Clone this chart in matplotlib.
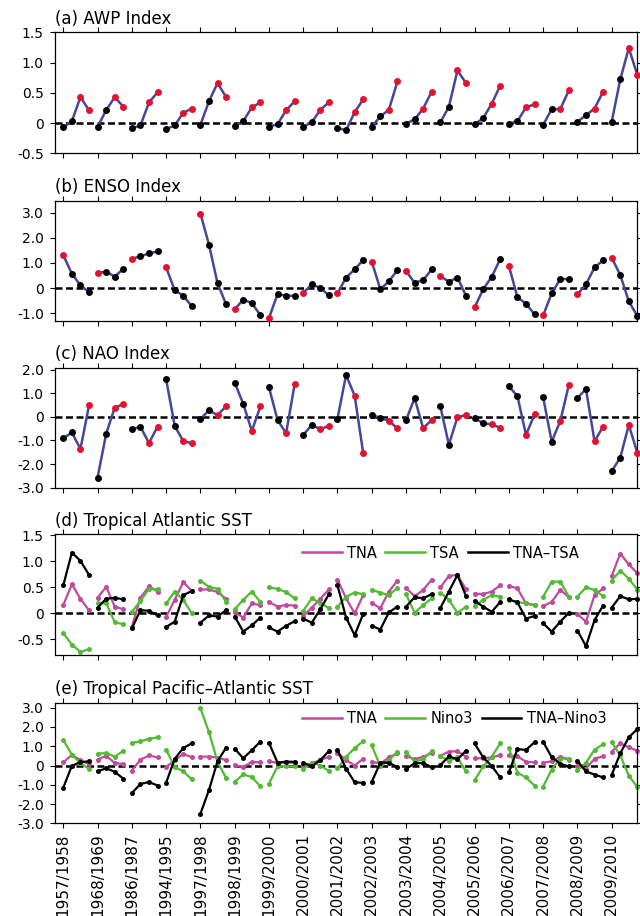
import numpy as np
import matplotlib.pyplot as plt
from matplotlib.ticker import FuncFormatter

seasons = ["1957/1958", "1968/1969", "1986/1987", "1994/1995", "1997/1998",
           "1998/1999", "1999/2000", "2000/2001", "2001/2002", "2002/2003",
           "2003/2004", "2004/2005", "2005/2006", "2006/2007", "2007/2008",
           "2008/2009", "2009/2010"]

# 4 values per season
awp = [-0.07, 0.03, 0.43, 0.21,
       -0.06, 0.21, 0.43, 0.27,
       -0.09, -0.04, 0.34, 0.51,
       -0.10, -0.04, 0.17, 0.24,
       -0.03, 0.36, 0.66, 0.43,
       -0.05, 0.03, 0.26, 0.34,
       -0.06, -0.02, 0.21, 0.36,
       -0.06, 0.01, 0.22, 0.34,
       -0.08, -0.12, 0.18, 0.39,
       -0.06, 0.11, 0.22, 0.69,
       -0.01, 0.06, 0.24, 0.52,
       0.01, 0.27, 0.87, 0.66,
       -0.02, 0.08, 0.32, 0.62,
       -0.01, 0.03, 0.26, 0.31,
       -0.03, 0.23, 0.23, 0.54,
       0.02, 0.13, 0.24, 0.52,
       0.02, 0.72, 1.24, 0.79]

enso = [1.31, 0.57, 0.11, -0.16,
        0.61, 0.65, 0.46, 0.76,
        1.17, 1.26, 1.38, 1.46,
        0.82, -0.08, -0.31, -0.72,
        2.97, 1.73, 0.19, -0.65,
        -0.85, -0.46, -0.60, -1.08,
        -1.20, -0.24, -0.31, -0.31,
        -0.19, 0.15, 0.00, -0.29,
        -0.21, 0.42, 0.74, 1.12,
        1.05, -0.05, 0.27, 0.72,
        0.68, 0.21, 0.32, 0.74,
        0.48, 0.25, 0.42, -0.31,
        -0.77, -0.05, 0.45, 1.16,
        0.89, -0.37, -0.62, -1.05,
        -1.09, -0.21, 0.36, 0.36,
        -0.25, 0.15, 0.82, 1.10,
        1.21, 0.52, -0.53, -1.12]

nao = [-0.91, -0.66, -1.36, 0.48,
       -2.57, -0.72, 0.39, 0.53,
       -0.52, -0.42, -1.11, -0.41,
       1.59, -0.38, -1.03, -1.12,
       -0.10, 0.28, 0.07, 0.45,
       1.45, 0.55, -0.60, 0.44,
       1.25, -0.13, -0.70, 1.38,
       -0.77, -0.34, -0.52, -0.38,
       -0.08, 1.77, 0.90, -1.53,
       0.08, -0.04, -0.17, -0.49,
       -0.14, 0.79, -0.48, -0.13,
       0.45, -1.18, -0.01, 0.07,
       -0.06, -0.27, -0.32, -0.46,
       1.29, 0.88, -0.77, 0.11,
       0.83, -1.05, -0.18, 1.35,
       0.80, 1.17, -1.04, -0.41,
       -2.30, -1.73, -0.34, -1.53]

tna = [0.16, 0.56, 0.28, 0.06,
       0.30, 0.51, 0.13, 0.08,
       -0.26, 0.30, 0.52, 0.42,
       -0.07, 0.26, 0.60, 0.43,
       0.46, 0.46, 0.41, 0.28,
       0.02, -0.08, 0.19, 0.16,
       0.22, 0.13, 0.16, 0.15,
       -0.05, 0.11, 0.28, 0.46,
       0.65, 0.29, 0.00, 0.35,
       0.20, 0.10, 0.42, 0.63,
       0.49, 0.33, 0.45, 0.65,
       0.50, 0.72, 0.74, 0.46,
       0.38, 0.37, 0.42, 0.54,
       0.53, 0.48, 0.19, 0.16,
       0.14, 0.22, 0.45, 0.31,
       -0.01, -0.16, 0.35, 0.48,
       0.72, 1.15, 0.94, 0.77]

tsa = [-0.38, -0.60, -0.74, -0.69,
       0.19, 0.20, -0.17, -0.21,
       0.03, 0.24, 0.47, 0.46,
       0.19, 0.42, 0.26, 0.00,
       0.63, 0.51, 0.47, 0.22,
       0.08, 0.26, 0.42, 0.22,
       0.50, 0.47, 0.41, 0.29,
       0.05, 0.29, 0.20, 0.10,
       0.13, 0.32, 0.40, 0.37,
       0.45, 0.40, 0.35, 0.49,
       0.37, 0.01, 0.16, 0.29,
       0.40, 0.26, 0.01, 0.13,
       0.14, 0.26, 0.35, 0.32,
       0.26, 0.22, 0.19, 0.16,
       0.32, 0.61, 0.61, 0.32,
       0.32, 0.50, 0.45, 0.33,
       0.63, 0.82, 0.67, 0.45]

tna_tsa = [0.54, 1.17, 1.01, 0.74,
           0.11, 0.28, 0.30, 0.27,
           -0.29, 0.06, 0.05, -0.04,
           -0.26, -0.16, 0.35, 0.43,
           -0.18, -0.04, -0.06, 0.06,
           -0.06, -0.35, -0.23, -0.08,
           -0.27, -0.35, -0.24, -0.15,
           -0.10, -0.18, 0.08, 0.37,
           0.54, -0.08, -0.42, -0.01,
           -0.24, -0.31, 0.02, 0.13,
           0.13, 0.31, 0.29, 0.37,
           0.10, 0.42, 0.74, 0.33,
           0.24, 0.13, 0.03, 0.22,
           0.27, 0.21, -0.10, -0.05,
           -0.19, -0.35, -0.16, 0.01,
           -0.33, -0.63, -0.13, 0.15,
           0.11, 0.33, 0.27, 0.28]

nino3 = [1.31, 0.57, 0.11, -0.16,
         0.61, 0.65, 0.46, 0.76,
         1.17, 1.26, 1.38, 1.46,
         0.82, -0.08, -0.31, -0.72,
         2.97, 1.73, 0.19, -0.65,
         -0.85, -0.46, -0.60, -1.08,
         -0.95, -0.05, -0.05, -0.05,
         -0.19, 0.15, 0.00, -0.29,
         -0.15, 0.45, 0.90, 1.27,
         1.05, -0.05, 0.27, 0.72,
         0.68, 0.21, 0.32, 0.74,
         0.48, 0.25, 0.42, -0.31,
         -0.77, -0.05, 0.45, 1.16,
         0.89, -0.37, -0.62, -1.05,
         -1.09, -0.21, 0.36, 0.36,
         -0.25, 0.15, 0.82, 1.10,
         1.21, 0.52, -0.53, -1.12]

tna_nino3 = [-1.15, -0.01, 0.17, 0.22,
             -0.31, -0.14, -0.33, -0.68,
             -1.43, -0.96, -0.86, -1.04,
             -0.89, 0.34, 0.91, 1.15,
             -2.51, -1.27, 0.22, 0.93,
             0.87, 0.38, 0.79, 1.24,
             1.18, 0.15, 0.20, 0.19,
             0.14, -0.04, 0.28, 0.75,
             0.80, -0.16, -0.87, -0.90,
             -0.85, 0.15, 0.15, -0.09,
             -0.19, 0.12, 0.13, -0.09,
             0.02, 0.47, 0.32, 0.77,
             1.15, 0.42, -0.03, -0.62,
             -0.36, 0.85, 0.81, 1.21,
             1.23, 0.43, 0.09, -0.05,
             0.24, -0.31, -0.47, -0.62,
             -0.49, 0.63, 1.47, 1.89]

LINE = "#47479a"
RED = "#e5122f"
MAG = "#c04a9f"
GRN = "#52bb33"
NPER = 4

plt.rcParams["font.family"] = "DejaVu Sans"
plt.rcParams["axes.linewidth"] = 0.9

fig = plt.figure(figsize=(6.4, 9.16), dpi=100)

# panel rectangles in pixels (top, bottom)
rows = [(32.3, 153.3), (200.7, 320.7), (367.7, 487.7), (534.3, 655.0), (702.7, 823.3)]
left, right = 55.0, 636.7
W, H = 640.0, 916.0

x = np.arange(len(awp))
ngroups = len(seasons)


def yfmt(v, pos):
    if abs(v) < 1e-9:
        return "0"
    return "%.1f" % v


def setup(ax, title, ylim, yticks, xlabels=False):
    ax.set_xlim(-0.97, 66.92)
    ax.set_ylim(*ylim)
    ax.set_xticks(np.arange(ngroups) * NPER)
    ax.set_yticks(yticks)
    ax.yaxis.set_major_formatter(FuncFormatter(yfmt))
    ax.tick_params(direction="out", length=3.6, width=0.8, labelsize=10,
                   top=True, right=True, pad=4.5)
    ax.tick_params(axis="x", pad=3.5)
    if xlabels:
        ax.set_xticklabels(seasons, rotation=90, fontsize=11)
    else:
        ax.set_xticklabels([])
    ax.axhline(0, color="k", lw=1.8, dashes=(2.8, 1.4), zorder=1)
    ax.annotate(title, xy=(0, 1), xycoords="axes fraction", xytext=(0, 6),
                textcoords="offset points", va="baseline", ha="left", fontsize=12)


def index_panel(ax, vals, red_pos):
    for g in range(ngroups):
        sl = slice(g * NPER, (g + 1) * NPER)
        ax.plot(x[sl], vals[sl], color=LINE, lw=1.8, zorder=2, clip_on=False)
        for j in range(NPER):
            i = g * NPER + j
            c = RED if j in red_pos else "k"
            ax.plot(x[i], vals[i], "o", color=c, ms=5, mec="none", zorder=3,
                    clip_on=False)


def sst_panel(ax, series, colors, labels):
    for vals, c in zip(series, colors):
        for g in range(ngroups):
            sl = slice(g * NPER, (g + 1) * NPER)
            ax.plot(x[sl], vals[sl], "-o", color=c, lw=1.6, ms=3.6, mec="none",
                    zorder=2, clip_on=False)
    hs = [plt.Line2D([], [], color=c, lw=1.8) for c in colors]
    return hs


axes = []
for top, bot in rows:
    ax = fig.add_axes([left / W, 1 - bot / H, (right - left) / W, (bot - top) / H])
    axes.append(ax)

awp = np.array(awp)
enso = np.array(enso)
nao = np.array(nao)
tna = np.array(tna)
tsa = np.array(tsa)
tna_tsa = np.array(tna_tsa)
nino3 = np.array(nino3)
tna_nino3 = np.array(tna_nino3)

setup(axes[0], "(a) AWP Index", (-0.5, 1.5), [-0.5, 0, 0.5, 1.0, 1.5])
index_panel(axes[0], awp, [2, 3])

setup(axes[1], "(b) ENSO Index", (-1.3, 3.48), [-1, 0, 1, 2, 3])
index_panel(axes[1], enso, [0])

setup(axes[2], "(c) NAO Index", (-3.0, 2.08), [-3, -2, -1, 0, 1, 2])
index_panel(axes[2], nao, [2, 3])

setup(axes[3], "(d) Tropical Atlantic SST", (-0.8, 1.52), [-0.5, 0, 0.5, 1.0, 1.5])
hs = sst_panel(axes[3], [tna, tsa, tna_tsa], [MAG, GRN, "k"], None)
axes[3].legend(hs, ["TNA", "TSA", "TNA\u2013TSA"], loc="center left",
               bbox_to_anchor=(0.424, 0.845), ncol=3, frameon=False, fontsize=10.5,
               borderaxespad=0, borderpad=0, handlelength=2.74, handletextpad=0.35,
               columnspacing=0.6)

setup(axes[4], "(e) Tropical Pacific\u2013Atlantic SST", (-3.0, 3.26),
      [-3, -2, -1, 0, 1, 2, 3], xlabels=True)
hs = sst_panel(axes[4], [tna, nino3, tna_nino3], [MAG, GRN, "k"], None)
axes[4].legend(hs, ["TNA", "Nino3", "TNA\u2013Nino3"], loc="center left",
               bbox_to_anchor=(0.424, 0.865), ncol=3, frameon=False, fontsize=10.5,
               borderaxespad=0, borderpad=0, handlelength=2.74, handletextpad=0.35,
               columnspacing=0.6)

fig.savefig("out.png", dpi=100)
